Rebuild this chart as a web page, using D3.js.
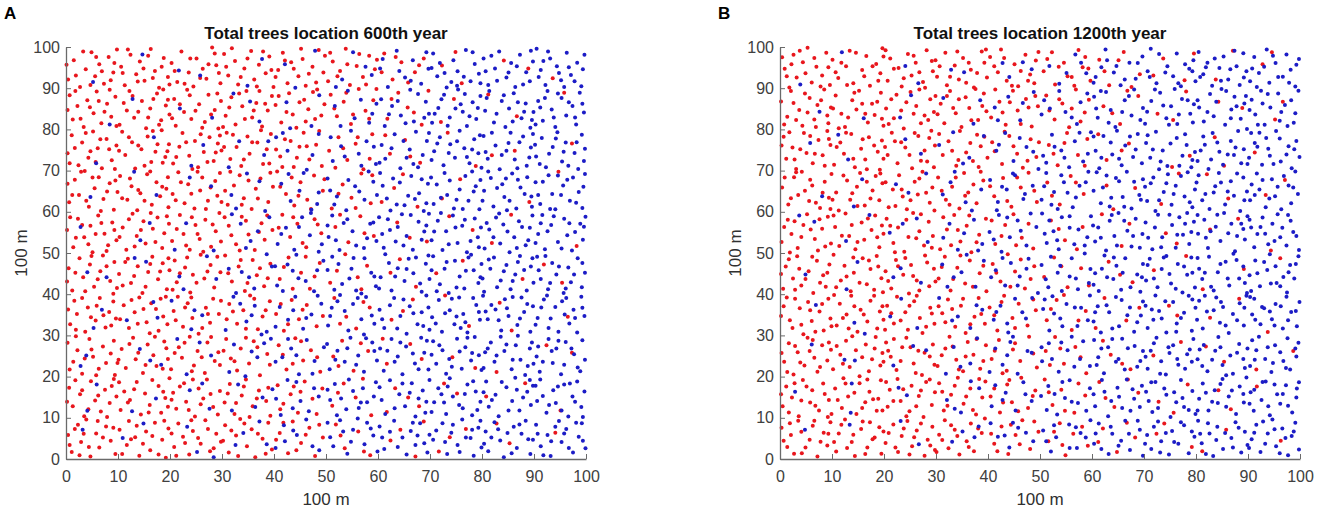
<!DOCTYPE html>
<html>
<head>
<meta charset="utf-8">
<title>Total trees location</title>
<script src="https://d3js.org/d3.v7.min.js"></script>
<style>
  body { margin: 0; background: #fff; }
  text { font-family: "Liberation Sans", Arial, sans-serif; }
</style>
</head>
<body>
<div id="chart"></div>
<script>
// tick labels (metres)
const tickValues = [0, 10, 20, 30, 40, 50, 60, 70, 80, 90, 100];
const panelLetters = ["A", "B"];
const panelTitles = ["Total trees location 600th year", "Total trees location 1200th year"];
const axisName = "100 m";

// tree positions, in decimetres, flat list x, y, x, y ...
// panel A, red trees
const redA = [
  // y 90-100
  4,921, 15,968, 27,903, 38,946, 49,987, 56,929, 64,958, 73,911, 82,976, 91,938, 98,994,
  106,952, 113,907, 124,981, 135,934, 142,965, 151,918, 163,995, 171,942, 179,901, 188,973, 196,927,
  203,961, 214,915, 222,989, 236,938, 245,904, 251,972, 263,947, 270,923, 281,999, 289,956, 297,912,
  304,983, 312,931, 325,966, 331,909, 343,948, 356,990, 362,921, 371,957, 384,936, 391,977, 399,903,
  408,944, 417,986, 426,912, 433,963, 447,929, 455,971, 461,906, 474,952, 486,993, 495,938,
  504,917, 513,965, 527,942, 538,996, 546,908, 559,954, 571,927, 583,979, 594,946,
  612,984, 628,921, 645,963, 671,939, 688,972, 723,955, 761,912, 842,967, 936,924,
  1,957, 19,931, 33,989, 47,908, 58,976, 69,941, 86,919, 93,961,
  109,937, 119,994, 138,916, 149,948, 158,979, 167,925, 184,952, 199,909,
  209,942, 228,911, 239,972, 258,925, 274,958, 286,984, 294,937,
  308,952, 319,997, 336,927, 349,972, 367,904, 379,989, 395,944,
  403,927, 421,967, 438,947, 452,996, 467,935, 481,914, 498,979,
  508,986, 522,929, 541,958, 564,983, 577,909, 598,969,
  607,939, 634,976, 658,914, 679,956, 749,988, 889,948,
  // y 80-90
  7,883, 13,824, 22,857, 34,806, 41,871, 53,839, 59,892, 68,815, 79,862, 87,831, 95,879,
  103,811, 117,846, 122,893, 131,828, 146,869, 154,803, 162,851, 175,887, 183,822, 192,858, 199,836,
  208,874, 211,809, 227,842, 233,896, 241,825, 256,861, 267,818, 274,884, 286,847, 293,802, 298,869,
  307,833, 318,878, 326,812, 339,856, 347,893, 358,829, 366,864, 377,807, 388,846, 396,881,
  403,859, 414,817, 429,888, 436,836, 443,804, 458,872, 466,849, 479,825, 483,897, 497,861,
  509,884, 521,832, 534,867, 548,813, 563,898, 576,845, 591,871,
  618,826, 639,889, 657,853, 684,811, 746,874, 867,832, 958,889,
  3,847, 18,893, 28,826, 46,854, 63,869, 74,843, 84,896, 97,808,
  111,864, 128,881, 139,843, 158,829, 168,874, 179,811, 187,897, 196,872,
  204,827, 219,861, 238,883, 249,845, 262,804, 279,836, 291,887,
  302,806, 314,853, 333,887, 344,825, 361,846, 372,893, 383,862,
  409,881, 424,842, 449,866, 461,819, 475,891, 491,834,
  516,851, 539,889, 552,836, 583,826, 597,898,
  626,874, 669,841, 697,894, 721,818, 812,885,
  // y 70-80
  3,742, 11,786, 24,713, 31,768, 43,731, 52,795, 61,754, 69,706, 78,777, 88,725, 97,761,
  108,794, 114,738, 127,769, 133,705, 145,752, 157,783, 164,721, 172,746, 184,798, 191,733, 198,764,
  206,717, 218,758, 224,791, 237,736, 248,772, 254,708, 265,745, 276,781, 284,723, 292,766, 299,749,
  309,792, 316,728, 328,757, 337,711, 349,783, 353,741, 368,768, 379,716, 386,752, 394,789,
  412,734, 421,776, 438,709, 449,758, 457,792, 468,727, 481,763, 492,711,
  506,748, 524,781, 541,726, 557,765, 572,703, 589,788,
  623,741, 652,774, 681,719, 734,792, 819,737, 973,766,
  7,718, 17,755, 38,791, 47,747, 57,721, 66,776, 83,752, 94,704,
  102,748, 121,781, 139,761, 151,712, 167,796, 176,764, 186,719, 195,747,
  212,733, 231,769, 243,704, 259,788, 272,721, 288,744, 296,785,
  304,757, 321,787, 342,727, 358,769, 375,798, 391,717,
  404,751, 416,709, 432,772, 444,731, 463,759, 487,796,
  518,707, 533,754, 561,781, 584,729, 614,786, 662,734, 788,711, 863,748,
  // y 60-70
  6,623, 17,678, 25,641, 36,699, 44,612, 55,657, 63,684, 72,631, 84,669, 92,605, 99,648,
  104,687, 118,629, 126,662, 137,604, 143,645, 156,691, 165,617, 174,672, 181,638, 193,656, 197,611,
  205,643, 216,696, 228,621, 235,667, 247,608, 258,652, 262,683, 273,627, 287,675, 291,639, 296,694,
  311,617, 323,664, 334,689, 342,633, 357,607, 365,656, 374,681, 389,624, 398,661,
  406,698, 423,643, 439,615, 451,672, 464,629, 477,688, 494,651,
  511,608, 532,666, 549,634, 568,693, 586,621,
  631,658, 676,612, 758,679, 891,624, 947,697,
  3,668, 12,641, 29,697, 39,627, 51,683, 67,602, 79,649, 95,676,
  108,633, 123,681, 139,653, 151,627, 162,698, 185,661, 196,684,
  211,628, 221,672, 241,644, 253,697, 269,607, 278,659, 299,624,
  306,651, 316,697, 338,617, 351,676, 369,632, 393,695,
  412,661, 434,683, 447,639, 471,607, 497,679,
  524,644, 557,609, 589,689, 607,624, 648,691, 723,632,
  // y 50-60
  2,556, 14,514, 23,583, 35,538, 47,566, 51,502, 62,591, 74,547, 81,519, 89,574, 97,531,
  109,562, 116,508, 128,595, 136,541, 149,577, 153,523, 167,559, 176,586, 185,512, 189,548, 198,571,
  204,529, 219,592, 226,546, 238,508, 249,568, 257,534, 268,581, 279,515, 288,553, 295,597,
  313,566, 327,521, 338,588, 351,545, 363,507, 376,572, 382,532, 397,556,
  416,593, 431,539, 445,571, 462,514, 478,582, 491,548,
  518,563, 543,526, 566,589, 592,541, 637,574, 694,528, 782,556, 856,593, 982,517,
  8,587, 19,537, 31,568, 43,521, 57,546, 68,573, 78,505, 93,556,
  103,539, 121,582, 132,516, 144,556, 163,597, 172,527, 194,589,
  213,558, 231,518, 242,587, 253,546, 264,503, 282,569, 298,528,
  305,587, 318,543, 334,506, 346,578, 371,551, 387,591,
  409,561, 437,587, 455,524, 484,569,
  527,593, 574,548, 661,537, 737,589, 819,524,
  // y 40-50
  5,463, 12,409, 26,487, 33,441, 46,472, 54,418, 66,456, 71,494, 85,432, 93,478, 98,415,
  102,449, 119,486, 125,427, 138,468, 147,403, 158,454, 166,491, 177,436, 186,475, 194,412, 199,458,
  209,482, 213,429, 229,465, 239,404, 244,447, 259,496, 266,438, 278,471, 285,416, 297,453,
  306,494, 319,431, 332,467, 344,408, 359,483, 367,446, 381,419, 393,474,
  411,437, 428,489, 452,452, 469,413, 488,476,
  508,428, 537,497, 561,441, 579,469, 642,485, 673,418, 712,451, 878,437, 919,472,
  2,431, 18,452, 37,407, 49,493, 61,436, 78,468, 91,401,
  109,421, 114,478, 131,444, 153,418, 162,473, 181,455, 197,487,
  205,411, 219,451, 233,489, 251,428, 272,455, 291,491,
  312,451, 336,483, 349,427, 373,463, 388,439,
  419,466, 436,413, 461,491, 478,443,
  521,457, 568,412, 624,452, 763,481, 954,428,
  // y 30-40
  8,327, 16,384, 21,352, 37,309, 42,368, 57,336, 65,391, 76,319, 83,357, 91,382, 96,341,
  111,373, 121,318, 132,356, 141,392, 155,332, 161,305, 173,364, 182,389, 195,327, 187,346,
  207,359, 215,394, 225,321, 234,378, 243,342, 255,304, 269,367, 277,331, 283,389, 294,352,
  314,376, 329,328, 341,361, 354,397, 369,315, 378,346, 392,383,
  404,352, 419,311, 434,386, 448,339, 463,374, 482,322,
  516,391, 539,345, 558,317, 584,368, 626,338, 667,387, 775,323, 834,379, 965,345,
  4,363, 19,314, 31,391, 48,344, 59,372, 72,349, 87,324,
  104,339, 126,386, 138,328, 149,364, 164,378, 178,311, 192,394,
  211,337, 229,368, 241,392, 262,318, 273,352, 298,384,
  309,339, 321,358, 346,316, 362,389, 384,361,
  413,376, 427,327, 455,362, 494,347,
  527,328, 572,381, 648,359, 729,397, 857,312,
  // y 20-30
  3,282, 14,236, 22,264, 31,207, 45,291, 52,248, 63,219, 71,273, 86,256, 94,204, 99,233,
  107,267, 115,221, 129,294, 134,242, 148,209, 157,278, 168,252, 174,226, 189,285, 196,243,
  202,218, 217,271, 223,246, 238,297, 246,227, 253,262, 267,209, 272,283, 286,238, 293,259,
  308,291, 317,244, 329,215, 336,268, 352,232, 361,286, 373,203, 387,255,
  409,276, 424,217, 441,293, 456,239, 471,264, 489,212,
  514,249, 531,287, 553,214, 581,262, 617,231, 662,279, 743,247, 828,211, 924,276,
  7,217, 19,298, 36,244, 49,266, 58,203, 77,233, 92,287,
  101,241, 122,279, 139,258, 153,228, 171,297, 186,219, 193,269,
  209,257, 228,282, 242,213, 261,247, 279,296, 296,228,
  303,263, 324,237, 346,294, 368,271, 392,229,
  417,253, 436,231, 452,286, 483,247,
  524,226, 567,281, 609,292, 684,243, 787,221, 973,258,
  // y 10-20
  6,173, 13,128, 27,157, 35,104, 48,189, 56,142, 67,115, 75,168, 84,136, 92,194, 97,152,
  105,119, 112,164, 123,143, 136,187, 144,108, 152,159, 161,131, 178,177, 183,112, 191,148, 199,196,
  206,161, 212,122, 227,184, 231,139, 248,103, 255,171, 264,147, 271,193, 283,126, 296,165,
  305,137, 315,182, 324,109, 338,154, 346,193, 359,128, 371,166, 385,141, 393,105,
  407,179, 418,134, 432,157, 446,112, 459,188, 474,146, 493,171,
  512,129, 534,183, 557,149, 587,106, 633,172, 679,128, 752,159, 883,184, 951,118,
  2,139, 18,191, 31,167, 43,121, 62,154, 79,102, 88,177,
  102,186, 119,137, 131,169, 159,113, 166,192, 187,163, 196,127,
  203,144, 219,176, 236,119, 244,193, 259,133, 278,158, 292,108,
  311,159, 327,136, 342,176, 353,102, 367,147, 389,173,
  412,121, 438,176, 451,163, 482,109,
  523,161, 571,195, 617,114, 658,149, 727,183, 808,152,
  // y 0-10
  4,58, 11,17, 23,83, 29,41, 39,96, 47,6, 58,62, 64,28, 77,79, 86,44, 95,12,
  103,71, 117,34, 121,92, 133,53, 141,8, 154,67, 162,21, 171,88, 185,47, 192,3, 197,74,
  208,29, 216,86, 225,54, 237,11, 244,68, 259,37, 268,94, 277,19, 289,61, 298,42,
  306,82, 313,16, 327,57, 335,97, 348,31, 357,72, 364,4, 378,49, 389,88, 396,23,
  411,63, 427,14, 436,91, 452,39, 468,76, 479,7, 494,52,
  519,84, 536,26, 562,67, 585,9, 624,45, 688,91, 717,18, 769,73, 853,38, 941,64,
  7,34, 17,73, 26,9, 34,61, 44,29, 61,92, 71,52, 91,76,
  108,12, 125,48, 136,81, 148,37, 166,56, 178,11, 189,93,
  203,62, 212,8, 229,39, 241,94, 254,51, 273,73, 284,26,
  302,44, 318,69, 331,7, 343,86, 369,61, 384,13,
  404,47, 418,88, 443,21, 461,59, 487,83,
  528,57, 573,18, 643,71, 672,6, 738,53, 828,86
];

// panel A, blue trees
const blueA = [
  // y 90-100
  52,915, 147,982, 258,931, 349,906, 421,958, 479,991, 519,903, 552,987, 588,932,
  604,948, 619,903, 636,991, 652,926, 667,968, 683,911, 697,947,
  706,984, 714,929, 732,902, 741,915, 745,968, 753,941, 769,993, 778,917, 786,959, 794,935,
  803,972, 812,908, 825,948, 833,989, 847,926, 856,961, 864,903, 873,981, 885,939, 892,917, 898,965,
  905,996, 913,944, 922,908, 931,972, 944,953, 952,919, 963,986, 971,932, 983,962, 991,905, 997,981,
  217,943, 377,971, 441,901, 531,921, 576,952, 609,971, 641,942, 663,918, 693,987,
  703,949, 719,961, 728,937, 752,906, 765,928, 782,987, 797,912,
  807,941, 818,979, 829,918, 851,938, 867,953, 879,909, 894,991,
  909,927, 918,966, 927,989, 948,937, 958,903, 967,951, 978,917, 994,946,
  // y 80-90
  84,812, 128,874, 219,851, 322,887, 372,819, 424,866, 472,808,
  517,857, 542,894, 555,827, 583,816, 597,862,
  606,873, 613,808, 627,857, 644,834, 662,896, 669,819, 692,867, 698,838,
  704,816, 716,852, 727,884, 738,829, 754,897, 763,843, 771,808, 782,866, 789,825, 797,881, 759,861,
  806,845, 814,893, 823,817, 838,869, 845,806, 852,851, 861,888, 876,827, 884,863, 893,804, 899,842,
  908,869, 917,821, 926,893, 934,848, 941,806, 953,876, 962,834, 974,857, 981,812, 988,889, 996,841,
  281,828, 354,868, 431,803, 487,883, 528,808, 567,872, 589,838,
  621,837, 638,869, 653,815, 677,886, 689,828,
  709,838, 722,873, 734,809, 749,851, 767,886, 776,832, 792,852,
  809,876, 828,838, 842,883, 859,819, 869,866, 881,843, 896,823,
  903,812, 912,853, 921,876, 938,829, 946,887, 967,866, 979,829, 993,862,
  // y 70-80
  58,718, 169,781, 241,712, 333,771, 381,738, 404,781, 426,748, 463,702, 486,789,
  513,723, 529,759, 548,797, 563,741, 578,771, 596,716,
  607,762, 614,729, 632,788, 643,706, 661,751, 673,794, 686,738, 694,772, 668,716,
  708,747, 719,781, 726,713, 739,764, 748,731, 757,797, 766,754, 776,718, 785,776, 793,742, 799,707,
  803,784, 811,729, 826,761, 834,703, 847,748, 855,792, 863,727, 872,769, 886,712, 894,756, 898,789,
  904,734, 915,779, 923,708, 936,757, 945,793, 954,722, 961,768, 978,743, 985,704, 992,787, 998,753,
  264,762, 313,708, 389,771, 417,791, 474,738, 509,781, 536,734, 568,712, 592,758,
  603,719, 626,754, 649,772, 655,731, 677,708, 698,791,
  703,726, 714,766, 736,743, 752,771, 771,733, 781,751, 796,786,
  807,745, 819,792, 838,738, 851,767, 868,706, 879,783, 891,732,
  902,763, 911,716, 929,741, 942,778, 957,746, 966,712, 982,769, 996,723,
  // y 60-70
  47,636, 131,697, 279,662, 318,641, 348,693, 383,602,
  414,668, 432,626, 457,694, 472,605, 486,647,
  503,681, 521,637, 539,604, 556,662, 574,629, 591,673, 598,641,
  604,694, 617,632, 624,603, 642,671, 651,616, 664,687, 679,645, 688,602, 696,668, 658,639,
  707,619, 713,666, 728,694, 733,641, 746,608, 757,654, 768,687, 774,627, 788,662, 795,606, 781,698,
  804,651, 817,682, 822,613, 839,667, 843,636, 858,693, 866,608, 874,659, 887,684, 895,637, 848,604,
  903,672, 912,619, 928,689, 935,643, 941,606, 956,664, 969,627, 975,683, 986,648, 993,609, 998,692,
  174,641, 238,683, 327,608, 372,674, 428,692, 449,651, 483,619,
  508,652, 516,618, 543,677, 564,649, 582,698,
  609,663, 629,681, 636,618, 671,631, 684,679, 693,621,
  702,683, 721,634, 738,676, 751,629, 763,607, 784,649, 797,677,
  801,627, 812,698, 829,658, 846,681, 853,627, 869,678, 882,643, 896,612,
  908,641, 917,673, 931,607, 946,688, 952,641, 964,678, 981,622, 995,661,
  // y 50-60
  28,563, 143,531, 231,572, 284,506, 319,594, 346,512, 369,553, 391,587,
  407,522, 423,561, 439,508, 454,587, 469,543, 486,503,
  505,539, 512,591, 526,507, 534,573, 551,553, 573,512, 585,571, 597,529,
  602,587, 611,513, 623,556, 634,528, 646,594, 655,541, 667,508, 678,576, 689,552, 698,595,
  703,531, 715,578, 724,507, 731,553, 744,591, 753,524, 762,566, 771,502, 786,584, 792,538, 798,562,
  805,511, 814,557, 827,586, 835,523, 841,569, 853,502, 862,538, 871,577, 884,519, 892,561, 897,591,
  908,546, 916,592, 921,509, 933,568, 946,527, 958,583, 964,543, 973,506, 989,571, 994,532, 999,588,
  161,573, 209,508, 336,571, 355,529, 414,546, 448,563, 471,597, 492,521,
  503,567, 519,531, 541,582, 558,518, 579,536, 591,574,
  608,546, 619,582, 638,563, 649,518, 663,592, 684,532, 693,567,
  708,552, 721,597, 736,521, 749,562, 767,581, 778,529, 794,514,
  809,573, 822,538, 833,596, 849,552, 867,512, 877,563, 889,531,
  903,524, 913,572, 926,553, 938,589, 953,511, 968,572, 979,551, 996,564,
  // y 40-50
  78,441, 154,479, 218,443, 271,492, 313,462, 327,403, 352,441, 386,497,
  402,468, 417,408, 436,457, 443,496, 461,432, 477,407, 495,481,
  503,459, 516,411, 524,473, 545,438, 553,488, 568,402, 587,452, 596,419,
  605,441, 614,497, 626,409, 638,463, 651,432, 659,486, 668,451, 684,406, 692,474, 699,437,
  706,492, 719,424, 728,462, 736,403, 748,481, 757,443, 766,414, 779,496, 784,458, 793,427, 799,473,
  804,406, 816,462, 823,489, 836,433, 847,471, 855,412, 864,448, 873,493, 886,409, 894,467, 899,428,
  906,491, 913,437, 927,412, 935,476, 943,448, 957,403, 966,465, 971,429, 984,487, 992,417, 998,452,
  41,453, 132,488, 226,412, 289,437, 338,454, 362,414, 396,467,
  406,421, 426,472, 447,439, 483,458,
  512,491, 531,425, 549,462, 558,409, 574,487, 593,443,
  602,414, 621,476, 633,443, 655,461, 673,489, 681,426, 697,494,
  703,458, 713,407, 732,478, 751,416, 769,457, 774,489, 797,441,
  801,438, 813,484, 829,417, 842,456, 859,432, 869,478, 881,459, 897,487,
  909,458, 922,493, 931,427, 948,467, 961,414, 977,448, 993,476,
  // y 30-40
  69,362, 117,337, 168,381, 241,315, 262,349, 307,313, 322,394, 347,334, 363,372, 386,309,
  411,369, 427,338, 441,394, 456,316, 472,351, 491,377,
  504,324, 511,367, 527,398, 543,312, 552,376, 568,339, 577,393, 593,328,
  603,362, 612,318, 631,391, 643,347, 655,304, 661,371, 676,327, 684,356, 693,397, 699,314,
  704,344, 717,386, 723,309, 738,361, 747,327, 756,392, 764,352, 772,307, 789,374, 796,338, 759,318,
  802,396, 811,339, 826,363, 837,312, 844,388, 851,347, 868,325, 876,392, 881,357, 893,309, 898,371,
  903,326, 914,368, 925,397, 932,341, 947,309, 954,383, 968,329, 976,362, 983,307, 991,394, 997,347,
  53,318, 176,343, 203,384, 247,361, 335,377, 357,349, 376,302,
  403,321, 437,361, 462,342, 484,396,
  508,347, 522,383, 536,359, 561,391, 573,302, 588,348,
  608,339, 623,373, 637,317, 649,387, 668,354, 687,323, 697,368,
  711,329, 729,354, 742,389, 751,346, 768,332, 783,391, 794,357,
  807,358, 818,374, 832,337, 848,366, 859,393, 873,341, 887,376,
  907,342, 919,387, 928,318, 941,369, 959,351, 962,391, 979,342, 993,367,
  // y 20-30
  39,251, 142,267, 183,229, 232,206, 279,251, 323,278, 345,201, 368,247, 394,292,
  416,247, 433,268, 448,206, 463,289, 478,238, 496,271,
  507,218, 522,263, 536,236, 547,294, 562,251, 573,212, 589,283, 598,239,
  604,268, 611,214, 626,291, 638,249, 647,206, 654,273, 671,232, 683,294, 689,258, 697,217,
  706,286, 712,231, 724,264, 731,207, 752,292, 761,219, 768,271, 779,239, 786,296, 794,252, 737,243,
  806,259, 817,283, 824,236, 836,297, 843,262, 857,218, 865,276, 874,241, 883,204, 892,268, 899,231,
  905,249, 911,212, 928,291, 936,233, 943,268, 952,206, 961,284, 977,254, 984,222, 993,288, 998,241,
  28,226, 162,239, 214,291, 257,283, 314,211, 357,261, 381,281,
  403,236, 427,291, 443,252, 474,207,
  502,279, 518,241, 541,269, 558,229, 577,293, 593,262,
  618,263, 632,236, 643,283, 667,256, 678,218, 694,287,
  703,253, 718,276, 742,224, 757,261, 772,294, 781,257, 799,216,
  803,221, 811,268, 828,251, 847,278, 859,241, 869,299, 888,226, 896,283,
  908,273, 917,236, 934,262, 947,287, 958,229, 972,268, 989,213,
  // y 10-20
  59,181, 127,116, 238,167, 276,122, 331,181, 364,126, 397,169,
  413,107, 426,192, 451,141, 467,116, 486,152,
  503,168, 521,106, 529,147, 544,193, 563,124, 571,172, 579,138, 596,186,
  607,143, 614,109, 623,191, 641,157, 652,128, 665,184, 672,103, 686,166, 693,139, 699,192,
  703,114, 716,172, 727,137, 738,196, 744,152, 763,123, 772,181, 781,106, 788,164, 797,139, 731,109,
  808,188, 813,127, 826,156, 832,104, 847,174, 858,141, 864,197, 872,118, 887,163, 894,131, 898,178,
  906,141, 912,193, 924,112, 937,167, 942,136, 958,181, 966,103, 974,152, 983,188, 991,126, 997,164,
  41,117, 173,147, 262,183, 319,118, 378,149, 404,146, 436,123, 443,187, 477,172,
  508,143, 517,182, 539,121, 552,165, 567,137, 592,152,
  603,174, 632,123, 647,183, 661,161, 678,147, 691,112,
  708,138, 722,157, 734,176, 756,131, 767,158, 783,189, 791,119,
  803,162, 819,143, 838,187, 851,118, 867,168, 879,149, 892,192,
  903,178, 917,153, 929,131, 946,176, 953,118, 969,183, 979,139, 994,102,
  // y 0-10
  32,71, 109,51, 233,78, 284,4, 341,63, 386,36,
  403,27, 419,82, 444,58, 462,96, 487,21,
  508,53, 527,94, 541,13, 552,71, 574,36, 579,88, 591,57, 599,18,
  603,79, 612,24, 631,93, 647,52, 655,11, 663,68, 672,34, 681,87, 695,16, 699,59,
  706,47, 724,87, 733,12, 741,64, 753,34, 762,96, 778,51, 784,8, 793,76, 799,28,
  807,67, 812,19, 824,89, 835,45, 842,4, 861,78, 867,27, 876,61, 884,93, 893,12, 898,47,
  904,83, 913,31, 926,58, 932,7, 948,92, 953,41, 962,73, 975,16, 986,54, 992,87, 999,26,
  149,86, 252,17, 326,34, 372,91, 421,43, 437,69, 474,31,
  503,88, 514,31, 533,67, 548,42, 561,98, 586,74,
  608,52, 623,66, 638,29, 667,88, 676,57, 689,38,
  712,69, 729,41, 744,83, 757,17, 769,52, 781,71, 797,93,
  804,37, 818,52, 831,72, 849,63, 857,14, 872,84, 889,48,
  907,61, 918,9, 933,43, 941,78, 958,62, 967,27, 981,88, 994,44
];

// panel B, red trees
const redB = [
  // y 90-100
  9,947, 18,902, 26,981, 32,926, 44,963, 53,998, 61,914, 70,952, 81,931, 89,986, 96,908,
  101,969, 112,925, 127,953, 134,991, 141,912, 158,944, 166,978, 173,906, 185,959, 193,936, 197,997,
  207,918, 212,972, 228,949, 234,904, 246,983, 253,931, 261,962, 275,915, 282,992, 294,941, 299,968,
  302,928, 318,986, 321,907, 336,955, 344,921, 352,973, 367,945, 373,902, 388,989, 393,962, 398,926,
  404,976, 419,939, 425,994, 436,918, 451,958, 458,905, 472,981, 481,933, 492,967, 489,912,
  507,941, 523,987, 529,909, 546,962, 561,927, 574,993, 582,951, 597,918,
  614,969, 633,907, 661,988, 692,934, 737,972, 778,919, 871,991, 928,958,
  4,975, 13,929, 22,958, 38,991, 49,936, 66,973, 78,904, 93,951,
  107,939, 118,962, 129,908, 146,986, 162,929, 178,953, 189,918, 199,977,
  203,992, 219,947, 238,924, 257,979, 268,939, 279,901, 292,966,
  307,953, 327,928, 341,989, 358,913, 363,962, 379,937, 396,994,
  412,953, 431,973, 446,906, 463,942, 477,918, 497,988,
  514,971, 536,952, 553,929, 566,906, 587,976, 593,948,
  624,941, 651,968, 676,903, 718,931, 796,984, 838,921, 946,987,
  // y 80-90
  2,868, 14,831, 21,893, 37,847, 43,809, 57,876, 66,824, 72,859, 85,897, 93,815, 98,853,
  107,882, 118,838, 125,806, 139,871, 147,848, 152,894, 169,817, 177,862, 182,835, 194,889, 199,809,
  204,851, 219,827, 224,884, 238,802, 243,866, 257,838, 268,897, 271,815, 289,873, 296,842, 285,823,
  309,862, 316,815, 327,893, 338,839, 349,806, 357,878, 364,852, 381,823, 392,887, 397,844,
  406,829, 422,867, 434,811, 448,894, 457,846, 473,874, 484,807, 496,856,
  512,882, 528,824, 543,863, 556,805, 569,897, 586,841, 594,872,
  622,856, 654,813, 689,881, 726,838, 781,892, 843,867, 952,824,
  8,812, 26,864, 31,823, 48,887, 53,841, 69,806, 79,871, 91,834,
  102,851, 113,803, 131,829, 143,889, 158,862, 164,838, 187,867, 196,826,
  209,813, 214,873, 233,846, 251,891, 262,857, 278,834, 299,881,
  303,837, 321,881, 333,852, 344,873, 368,822, 376,898, 389,857,
  414,897, 428,841, 442,866, 463,813, 478,853, 491,881,
  518,846, 537,873, 561,851, 578,819,
  639,839, 668,894, 756,823, 889,852, 967,867,
  // y 70-80
  7,782, 12,729, 24,756, 31,704, 46,791, 51,743, 63,718, 74,774, 82,737, 91,796, 97,762,
  104,714, 116,768, 123,741, 137,789, 144,708, 156,753, 164,727, 171,781, 188,746, 192,702, 196,773,
  202,757, 215,792, 226,718, 233,769, 249,738, 254,706, 266,784, 278,749, 283,722, 291,797, 298,761,
  313,738, 324,771, 339,712, 346,796, 358,744, 371,723, 379,787, 386,759, 399,731,
  408,769, 427,716, 441,784, 456,741, 467,707, 482,776, 493,733,
  517,762, 534,713, 552,791, 573,738, 591,777,
  628,726, 671,766, 754,709, 836,781, 913,744,
  3,761, 18,793, 28,727, 39,752, 58,784, 67,741, 86,712, 94,777,
  109,757, 127,792, 141,729, 159,776, 167,703, 181,761, 199,729,
  207,738, 221,771, 241,756, 259,791, 271,724, 287,779, 296,708,
  306,789, 331,748, 343,726, 366,767, 382,709, 393,782,
  413,747, 432,794, 449,759, 476,724, 498,769,
  526,741, 547,767, 586,712, 612,788, 657,749, 788,736, 854,712,
  // y 60-70
  4,659, 16,618, 27,684, 35,641, 42,697, 56,626, 62,664, 77,609, 86,673, 94,634, 99,692,
  108,647, 113,603, 129,676, 135,629, 148,661, 154,694, 163,615, 178,652, 184,687, 191,628, 197,669,
  209,611, 217,654, 229,689, 236,637, 244,606, 259,673, 265,642, 274,697, 288,622, 293,659,
  304,683, 319,629, 331,661, 345,608, 354,694, 362,647, 378,621, 391,676,
  412,638, 429,682, 445,612, 463,659, 478,695, 494,624,
  514,671, 538,618, 559,687, 584,643, 641,606, 683,658, 767,693, 862,632, 971,677,
  9,683, 21,633, 31,696, 48,651, 58,678, 69,622, 82,646, 97,607,
  101,629, 122,688, 139,645, 149,614, 167,673, 174,632, 193,693,
  203,672, 222,614, 234,654, 251,628, 268,681, 281,646, 297,603,
  311,651, 326,617, 338,683, 356,639, 372,666, 386,697,
  404,662, 437,626, 456,683, 489,651,
  523,639, 569,671, 628,664, 733,619, 821,691, 934,641,
  // y 50-60
  3,527, 15,581, 22,546, 34,512, 45,568, 52,594, 67,534, 73,506, 81,559, 92,588, 98,523,
  106,563, 114,517, 126,596, 133,541, 145,509, 157,574, 162,532, 176,556, 183,591, 191,514, 199,547,
  205,583, 218,524, 227,562, 239,503, 247,539, 256,597, 268,553, 277,518, 286,576, 294,541,
  308,509, 321,557, 335,592, 347,528, 359,566, 368,502, 383,544, 396,583,
  414,522, 433,568, 449,594, 465,537, 487,511,
  521,579, 548,531, 582,563, 619,594, 657,517, 742,548, 881,583, 944,506,
  8,563, 19,501, 28,577, 41,539, 59,557, 76,582, 87,516,
  103,591, 119,542, 138,568, 149,527, 169,584, 187,538, 196,567,
  212,566, 221,502, 243,581, 262,536, 271,594, 292,513,
  314,587, 329,519, 342,556, 364,591, 378,526,
  407,579, 426,541, 454,519, 478,571,
  536,558, 571,509, 672,571, 763,523, 827,557,
  // y 40-50
  6,413, 11,467, 25,438, 33,492, 41,421, 55,456, 64,403, 71,481, 83,446, 95,472, 88,418,
  103,496, 117,433, 124,469, 136,407, 142,452, 159,487, 167,424, 174,461, 186,493, 195,439, 181,411,
  203,456, 214,414, 223,483, 237,447, 248,402, 252,471, 263,433, 279,494, 287,419, 296,462,
  305,438, 317,491, 328,409, 341,464, 356,426, 365,482, 384,451, 397,407,
  409,473, 424,431, 438,497, 452,455, 471,414, 489,468,
  508,442, 527,489, 553,417, 579,463, 632,479, 678,429, 719,458, 813,412, 962,487,
  2,449, 17,485, 29,411, 37,462, 49,437, 62,491, 77,428, 91,452,
  108,417, 128,443, 141,489, 153,428, 171,482, 189,467, 198,405,
  208,432, 227,468, 241,488, 256,444, 268,409, 283,477, 299,431,
  311,466, 333,437, 347,494, 371,418, 391,469,
  416,452, 443,418, 463,484, 482,437,
  541,468, 594,421, 654,447, 781,493, 892,461,
  // y 30-40
  2,347, 13,392, 24,318, 38,366, 45,303, 54,381, 61,335, 76,358, 84,312, 93,389, 97,341,
  109,324, 115,377, 128,351, 137,396, 149,309, 155,362, 168,334, 174,384, 187,317, 192,358, 199,338,
  206,372, 219,329, 225,394, 241,356, 246,314, 258,383, 269,342, 274,306, 289,367, 297,328,
  312,354, 323,387, 337,321, 348,372, 357,306, 374,345, 382,391, 394,328,
  403,368, 418,312, 431,396, 447,342, 459,377, 476,324, 492,361,
  513,337, 532,386, 561,313, 588,359, 624,391, 666,336, 748,372, 827,343, 938,308,
  7,371, 19,337, 29,389, 41,326, 58,361, 68,309, 81,376, 99,322,
  104,398, 121,342, 132,317, 143,371, 161,351, 181,396, 197,371,
  202,314, 214,354, 232,336, 249,372, 263,396, 281,321, 292,353,
  305,371, 318,332, 331,364, 352,389, 366,327, 387,352,
  412,349, 426,381, 452,318, 487,387,
  521,364, 546,398, 574,336, 607,318, 691,367, 764,348, 883,389,
  // y 20-30
  8,236, 17,281, 26,205, 34,259, 47,227, 53,294, 66,246, 72,212, 81,276, 91,239, 98,265,
  102,218, 116,253, 127,287, 134,223, 146,264, 153,201, 165,278, 177,242, 184,296, 193,227, 197,257,
  204,283, 213,248, 224,216, 235,271, 243,294, 257,232, 266,263, 273,204, 288,249, 294,278,
  303,226, 318,268, 326,297, 339,241, 352,213, 361,284, 372,253, 385,219, 396,276,
  407,243, 421,289, 436,214, 448,266, 462,238, 479,297, 494,222,
  511,262, 529,296, 546,231, 568,272, 589,208, 636,253, 674,218, 771,284, 854,236, 987,262,
  3,257, 14,211, 29,274, 39,234, 57,262, 63,289, 77,223, 94,283,
  109,274, 121,231, 139,298, 158,247, 171,213, 182,268, 199,236,
  208,263, 219,291, 232,238, 251,271, 261,209, 278,258, 297,229,
  311,252, 332,273, 344,217, 357,249, 378,291, 391,238,
  413,263, 428,208, 452,281, 487,256,
  519,228, 539,268, 578,247, 621,287, 658,231, 718,251, 819,273, 916,217,
  // y 10-20
  5,128, 12,176, 23,149, 36,104, 44,192, 58,137, 62,167, 75,118, 83,183, 94,143, 99,109,
  106,171, 119,124, 122,196, 131,152, 147,109, 153,184, 164,138, 172,163, 186,117, 194,191, 189,146,
  207,127, 211,168, 226,194, 232,141, 249,116, 253,178, 267,153, 276,102, 281,187, 292,131, 298,162,
  306,184, 315,118, 329,156, 342,197, 353,134, 366,171, 377,108, 389,149, 395,188,
  405,152, 423,113, 437,181, 446,138, 464,197, 477,124, 491,166,
  509,193, 524,131, 541,168, 566,112, 587,154,
  614,187, 643,126, 689,161, 728,139, 784,181, 867,121, 917,176,
  2,157, 17,113, 28,184, 41,142, 51,176, 68,129, 86,158, 92,102,
  111,143, 126,183, 143,161, 158,124, 168,193, 179,145, 197,118,
  204,187, 218,141, 237,169, 243,104, 262,128, 271,166, 288,193,
  312,163, 322,129, 336,178, 358,152, 371,119, 383,194,
  412,171, 429,137, 441,192, 458,116, 486,153,
  517,162, 548,117, 574,183, 626,148, 669,193, 757,112, 843,167,
  // y 0-10
  3,76, 14,29, 21,58, 35,93, 42,14, 57,47, 63,81, 72,6, 84,64, 91,33, 97,89,
  108,18, 113,62, 125,96, 138,41, 144,7, 156,73, 168,28, 173,89, 182,52, 195,13, 199,67,
  203,39, 218,84, 227,17, 234,56, 245,92, 254,31, 263,69, 278,8, 284,47, 293,78, 298,22,
  306,59, 317,94, 324,26, 336,71, 345,11, 359,43, 367,86, 373,19, 388,63, 394,98,
  412,37, 426,79, 439,12, 453,58, 466,94, 481,24, 497,66,
  516,43, 538,87, 549,9, 564,61, 592,32,
  621,74, 648,17, 683,52, 739,86, 792,29, 858,71, 963,44,
  7,44, 19,87, 27,13, 41,66, 49,28, 66,93, 78,42, 93,61,
  104,41, 118,83, 129,27, 141,59, 159,91, 164,12, 178,48, 191,77,
  209,63, 222,28, 238,74, 249,11, 258,53, 271,86, 289,33,
  301,17, 312,46, 329,82, 341,56, 363,29, 381,74,
  406,61, 418,19, 444,83, 461,36, 489,91,
  527,66, 543,34, 581,78, 612,41, 667,88, 724,61, 812,19
];

// panel B, blue trees
const blueB = [
  // y 90-100
  39,909, 119,987, 241,954, 329,945, 441,927, 467,963, 518,954, 537,911, 568,982, 589,936,
  603,913, 618,951, 626,994, 642,938, 655,907, 672,962, 684,923, 697,977,
  707,941, 713,996, 724,912, 745,953, 756,929, 763,984, 771,905, 787,947, 795,968, 799,917,
  805,988, 814,934, 822,962, 831,906, 845,949, 853,977, 862,921, 878,953, 884,908, 891,985, 897,941,
  904,917, 912,976, 921,937, 936,994, 941,913, 953,961, 967,928, 974,982, 982,945, 991,904, 998,971,
  266,912, 354,939, 428,961, 484,946, 551,937, 579,962,
  607,927, 629,968, 647,954, 663,921, 688,961,
  711,927, 729,983, 741,938, 766,912, 779,958, 793,941,
  808,927, 819,951, 836,972, 848,918, 866,946, 874,991, 892,926,
  908,948, 917,903, 931,952, 948,979, 958,927, 979,913, 993,957,
  // y 80-90
  76,843, 161,827, 252,883, 314,876, 372,814, 413,853, 439,879, 462,822, 488,891,
  503,836, 519,851, 537,893, 561,829, 578,866,
  604,879, 611,828, 627,891, 636,847, 645,806, 663,871, 676,834, 681,897, 698,852,
  702,814, 714,869, 731,889, 743,827, 752,856, 764,813, 773,874, 789,838, 796,861, 759,898,
  806,853, 815,819, 827,886, 834,832, 849,898, 856,811, 868,848, 874,879, 886,826, 893,863, 898,801,
  907,872, 914,836, 925,894, 932,811, 943,853, 958,887, 964,842, 976,808, 983,871, 991,839, 997,894,
  231,829, 385,871, 419,822, 467,864, 508,871, 549,842, 571,813, 591,887,
  608,851, 617,893, 632,816, 658,842, 671,881, 693,823,
  706,843, 721,897, 737,858, 748,811, 767,836, 784,871, 794,817,
  803,871, 822,842, 839,867, 858,893, 867,827, 878,856, 896,881,
  903,847, 919,811, 928,863, 938,886, 961,821, 971,859, 988,816,
  // y 70-80
  58,767, 131,727, 241,776, 306,762, 352,717, 392,784,
  416,748, 433,791, 449,723, 474,757, 497,704,
  506,736, 523,787, 541,749, 556,708, 567,771, 583,722, 598,793,
  607,748, 614,706, 622,784, 639,739, 648,797, 657,713, 664,761, 679,733, 688,789, 696,718,
  704,767, 712,731, 723,794, 736,749, 745,711, 763,779, 774,736, 782,762, 791,708, 798,745, 729,703,
  803,723, 817,763, 824,704, 832,791, 845,746, 852,714, 867,772, 873,738, 881,796, 892,752, 899,716,
  906,791, 918,758, 927,714, 935,779, 942,736, 954,796, 963,722, 978,759, 984,706, 993,772, 999,733,
  112,787, 271,741, 333,793, 364,731, 421,763, 461,779, 487,746,
  512,719, 528,758, 547,731, 576,792, 592,741,
  603,783, 618,731, 636,768, 652,729, 673,783, 684,751,
  707,786, 717,751, 732,722, 751,766, 768,712, 779,788, 793,726,
  809,749, 814,783, 829,727, 841,768, 861,739, 876,756, 887,718,
  902,731, 913,767, 922,792, 939,753, 949,716, 961,778, 974,739, 989,752,
  // y 60-70
  81,638, 142,613, 223,667, 281,693, 313,642, 336,697, 357,623, 387,654,
  404,677, 417,604, 436,654, 452,689, 468,631, 486,663,
  503,629, 512,694, 527,648, 534,607, 546,672, 569,635, 576,663, 593,697,
  603,651, 617,621, 628,688, 634,613, 652,674, 659,636, 667,697, 676,608, 691,641, 698,679,
  706,626, 713,669, 722,602, 738,648, 746,691, 753,617, 761,663, 778,637, 784,696, 793,611, 798,654,
  805,689, 818,643, 826,607, 837,662, 844,694, 856,618, 867,674, 873,639, 885,602, 891,683, 898,649,
  904,628, 917,693, 922,654, 934,611, 946,679, 952,638, 964,606, 978,664, 983,621, 991,698, 996,643,
  158,679, 247,646, 328,672, 369,603, 419,624, 427,661, 448,693, 471,643,
  508,662, 522,617, 541,689, 553,646, 563,611, 588,672,
  609,696, 621,659, 637,634, 646,682, 662,612, 681,673, 694,629,
  702,661, 718,683, 729,628, 743,669, 757,643, 771,687, 788,623,
  801,671, 812,628, 834,647, 848,671, 861,649, 879,693, 893,628,
  907,666, 913,641, 928,677, 941,632, 957,661, 969,687, 987,659,
  // y 50-60
  66,576, 172,592, 211,549, 263,584, 314,537, 342,508, 373,581, 389,522,
  403,551, 421,592, 426,503, 442,538, 457,579, 474,518, 493,563,
  504,596, 513,524, 526,553, 536,509, 542,587, 557,561, 566,521, 591,538, 598,589,
  606,528, 612,562, 627,506, 634,578, 643,541, 651,597, 668,554, 676,516, 684,583, 697,546,
  703,574, 716,509, 727,593, 735,538, 754,568, 761,513, 768,587, 775,544, 787,522, 796,576, 783,597,
  804,547, 816,581, 823,512, 838,564, 847,529, 854,597, 862,548, 875,504, 887,571, 894,533, 899,589,
  906,562, 912,514, 928,586, 933,547, 951,529, 957,594, 966,561, 974,518, 982,578, 993,541, 998,507,
  37,591, 127,529, 236,571, 284,527, 326,571, 354,548, 381,506,
  411,533, 437,586, 463,554, 482,596,
  509,547, 518,579, 533,531, 557,589, 574,557, 586,518,
  602,567, 617,537, 638,592, 648,518, 662,578, 679,541, 692,513,
  708,537, 721,562, 733,514, 749,593, 764,544, 779,571, 791,551,
  803,592, 819,537, 828,553, 841,593, 868,571, 879,541, 891,558,
  903,581, 918,546, 924,563, 939,521, 947,571, 962,538, 977,592, 987,551,
  // y 40-50
  49,448, 128,412, 232,463, 271,428, 312,472, 334,441, 359,496, 376,418,
  415,458, 433,421, 444,476, 461,443, 478,486, 496,403,
  503,471, 516,417, 534,452, 542,408, 561,487, 569,438, 586,499, 594,427,
  606,451, 613,408, 624,494, 641,437, 647,469, 656,411, 664,487, 687,448, 693,406, 698,473,
  704,433, 711,486, 726,417, 734,461, 743,493, 752,426, 765,473, 774,404, 783,447, 791,489, 798,416,
  806,462, 812,437, 825,491, 834,409, 842,453, 857,479, 864,421, 872,498, 883,438, 891,467, 898,403,
  903,446, 914,482, 923,419, 937,459, 942,497, 955,427, 968,442, 975,404, 981,471, 989,438, 997,492,
  149,478, 218,441, 322,418, 349,453, 392,481, 406,441, 428,488, 457,421, 474,462,
  511,436, 521,491, 539,469, 557,443, 573,412, 597,461,
  603,423, 619,462, 629,441, 642,489, 659,452, 674,417, 696,441,
  707,471, 719,438, 738,489, 749,449, 761,413, 777,467, 793,452,
  803,488, 817,452, 829,418, 847,473, 861,438, 878,483, 894,427,
  906,408, 918,451, 931,478, 944,426, 953,468, 962,419, 978,453, 992,473,
  // y 30-40
  69,374, 143,331, 212,346, 264,318, 306,391, 331,336, 366,318, 389,362,
  411,338, 424,372, 439,307, 466,356, 485,391,
  506,364, 518,312, 524,395, 539,341, 551,376, 572,323, 579,367, 596,397,
  603,334, 611,371, 617,307, 633,356, 646,393, 652,322, 673,368, 681,309, 694,348, 698,382,
  707,318, 715,363, 722,397, 734,341, 743,307, 756,381, 763,329, 777,355, 786,396, 792,311, 799,367,
  806,384, 813,317, 821,358, 839,392, 846,331, 852,369, 863,306, 871,352, 884,378, 892,324, 897,396,
  908,351, 912,389, 924,327, 931,366, 946,339, 953,376, 967,317, 974,394, 983,357, 994,322, 999,381,
  163,304, 233,389, 342,346, 378,373, 416,357, 437,329, 452,389, 473,341,
  509,387, 527,353, 543,322, 567,368, 592,337,
  606,356, 628,373, 639,317, 657,386, 668,349, 687,332,
  703,372, 718,338, 729,359, 741,383, 762,309, 771,342, 793,387,
  802,338, 817,396, 834,361, 848,381, 857,324, 879,337, 893,367,
  904,393, 914,338, 927,369, 942,358, 951,324, 963,371, 977,337, 992,359,
  // y 20-30
  61,278, 124,241, 218,227, 281,264, 334,272, 347,224, 379,293,
  414,268, 428,229, 443,284, 457,207, 484,258,
  504,237, 517,281, 536,212, 553,264, 561,297, 577,243, 596,226,
  604,289, 612,247, 623,208, 631,271, 646,236, 658,292, 663,217, 682,274, 693,238, 698,262,
  707,219, 713,263, 724,294, 733,237, 742,205, 756,276, 764,243, 779,219, 788,266, 795,291, 749,257,
  803,242, 815,277, 822,213, 837,263, 843,296, 851,228, 866,251, 871,207, 883,279, 891,243, 899,268,
  904,226, 916,264, 921,297, 933,243, 945,211, 952,276, 968,238, 976,293, 981,217, 993,249, 997,282,
  144,239, 256,274, 319,207, 366,232, 403,211, 437,252, 448,297, 476,262,
  503,271, 523,243, 541,283, 566,224, 583,286,
  609,228, 618,268, 639,291, 651,243, 669,269, 687,224,
  703,248, 719,281, 731,207, 747,271, 766,229, 783,254, 792,236,
  807,266, 812,226, 831,241, 847,271, 858,203, 879,258, 894,221,
  908,288, 913,241, 938,271, 948,233, 962,259, 973,221, 991,268,
  // y 10-20
  29,163, 138,183, 244,155, 321,143, 348,113, 383,172,
  414,179, 428,143, 453,118, 468,186, 484,141,
  502,153, 516,177, 533,108, 548,148, 557,191, 573,136, 596,172,
  606,128, 624,163, 631,104, 652,151, 667,193, 674,117, 681,146, 696,178, 658,124,
  704,163, 716,114, 722,187, 743,156, 751,102, 762,138, 771,192, 777,126, 793,165, 799,109,
  806,146, 813,183, 824,118, 836,167, 842,136, 851,194, 863,152, 877,109, 884,176, 892,137, 897,198,
  905,162, 911,117, 926,143, 934,188, 942,106, 956,157, 962,134, 973,179, 985,113, 993,149, 998,186,
  136,112, 228,173, 336,122, 367,189, 407,128, 434,161, 472,157,
  513,119, 528,158, 543,187, 561,139, 589,117,
  603,157, 619,192, 637,141, 649,173, 678,169, 692,126,
  709,141, 714,186, 727,124, 739,171, 758,162, 774,148, 786,119,
  803,118, 819,161, 831,139, 847,182, 858,127, 869,166, 891,158,
  903,134, 912,168, 928,187, 939,128, 951,181, 967,158, 977,129, 994,171,
  // y 0-10
  48,71, 134,83, 267,36, 331,42, 382,79,
  405,87, 419,54, 441,28, 458,76, 487,43,
  506,69, 521,18, 531,53, 556,84, 571,27, 578,63, 597,94,
  604,37, 613,86, 632,12, 639,61, 656,44, 664,93, 673,22, 692,71, 698,8,
  706,58, 714,24, 727,91, 733,43, 748,11, 754,68, 766,37, 777,82, 786,14, 797,54,
  804,93, 811,38, 826,62, 833,7, 841,78, 852,24, 868,51, 876,89, 887,16, 894,66, 899,34,
  907,48, 916,83, 924,17, 938,62, 947,96, 954,31, 966,74, 977,9, 984,56, 991,88, 998,23,
  232,92, 351,67, 374,53, 432,57, 448,88, 473,64,
  512,43, 527,82, 557,27, 569,77, 588,52,
  607,62, 618,24, 636,78, 651,32, 671,61, 688,93,
  702,37, 719,78, 731,16, 742,63, 758,41, 771,89, 792,67,
  808,61, 819,12, 823,87, 839,46, 856,63, 871,28, 882,76,
  902,27, 912,64, 929,91, 933,37, 951,72, 961,14, 972,51, 988,67
];

// turn a flat decimetre list into [x, y] pairs in metres
const toPairs = flat => d3.range(0, flat.length, 2).map(i => [flat[i] / 10, flat[i + 1] / 10]);

const width = 1325;
const height = 519;
const plotWidth = 520;
const plotTop = 47;
const plotBottom = 459;

const panels = [
  { letter: panelLetters[0], title: panelTitles[0], left: 66, red: redA, blue: blueA },
  { letter: panelLetters[1], title: panelTitles[1], left: 780, red: redB, blue: blueB }
];

const svg = d3.select("#chart")
  .append("svg")
    .attr("width", width)
    .attr("height", height);

panels.forEach(p => {
  const x = d3.scaleLinear().domain([0, 100]).range([p.left, p.left + plotWidth]);
  const y = d3.scaleLinear().domain([0, 100]).range([plotBottom, plotTop]);
  const g = svg.append("g");

  // dots: red trees first, blue on top
  [[p.red, "#e8161d"], [p.blue, "#1c1cc6"]].forEach(([flat, colour]) => {
    g.append("g")
      .selectAll("circle")
      .data(toPairs(flat))
      .join("circle")
        .attr("cx", d => x(d[0]))
        .attr("cy", d => y(d[1]))
        .attr("r", 2)
        .attr("fill", colour);
  });

  // x axis, ticks pointing inward
  const xAxis = g.append("g")
    .attr("transform", `translate(0,${plotBottom})`)
    .call(d3.axisBottom(x).tickValues(tickValues).tickSizeInner(-5).tickSizeOuter(0).tickPadding(12));

  // y axis
  const yAxis = g.append("g")
    .attr("transform", `translate(${p.left},0)`)
    .call(d3.axisLeft(y).tickValues(tickValues).tickSizeInner(-5).tickSizeOuter(0).tickPadding(6));

  [xAxis, yAxis].forEach(a => {
    a.select(".domain").attr("stroke", "#6a6a6a").attr("stroke-width", 1.3);
    a.selectAll(".tick line").attr("stroke", "#6a6a6a");
    a.selectAll(".tick text")
      .attr("fill", "#404040")
      .style("font-size", "16px")
      .style("font-family", "'Liberation Sans', Arial, sans-serif");
  });

  // title
  g.append("text")
    .attr("x", p.left + plotWidth / 2)
    .attr("y", 39)
    .attr("text-anchor", "middle")
    .style("font-size", "17px")
    .style("font-weight", "bold")
    .attr("fill", "#111")
    .text(p.title);

  // axis names
  g.append("text")
    .attr("x", p.left + plotWidth / 2)
    .attr("y", 505)
    .attr("text-anchor", "middle")
    .style("font-size", "17px")
    .attr("fill", "#303030")
    .text(axisName);

  g.append("text")
    .attr("transform", `translate(${p.left - 39},${(plotTop + plotBottom) / 2}) rotate(-90)`)
    .attr("text-anchor", "middle")
    .style("font-size", "17px")
    .attr("fill", "#303030")
    .text(axisName);

  // panel letter
  g.append("text")
    .attr("x", p.left - 62)
    .attr("y", 19)
    .style("font-size", "17px")
    .style("font-weight", "bold")
    .attr("fill", "#000")
    .text(p.letter);
});
</script>
</body>
</html>
